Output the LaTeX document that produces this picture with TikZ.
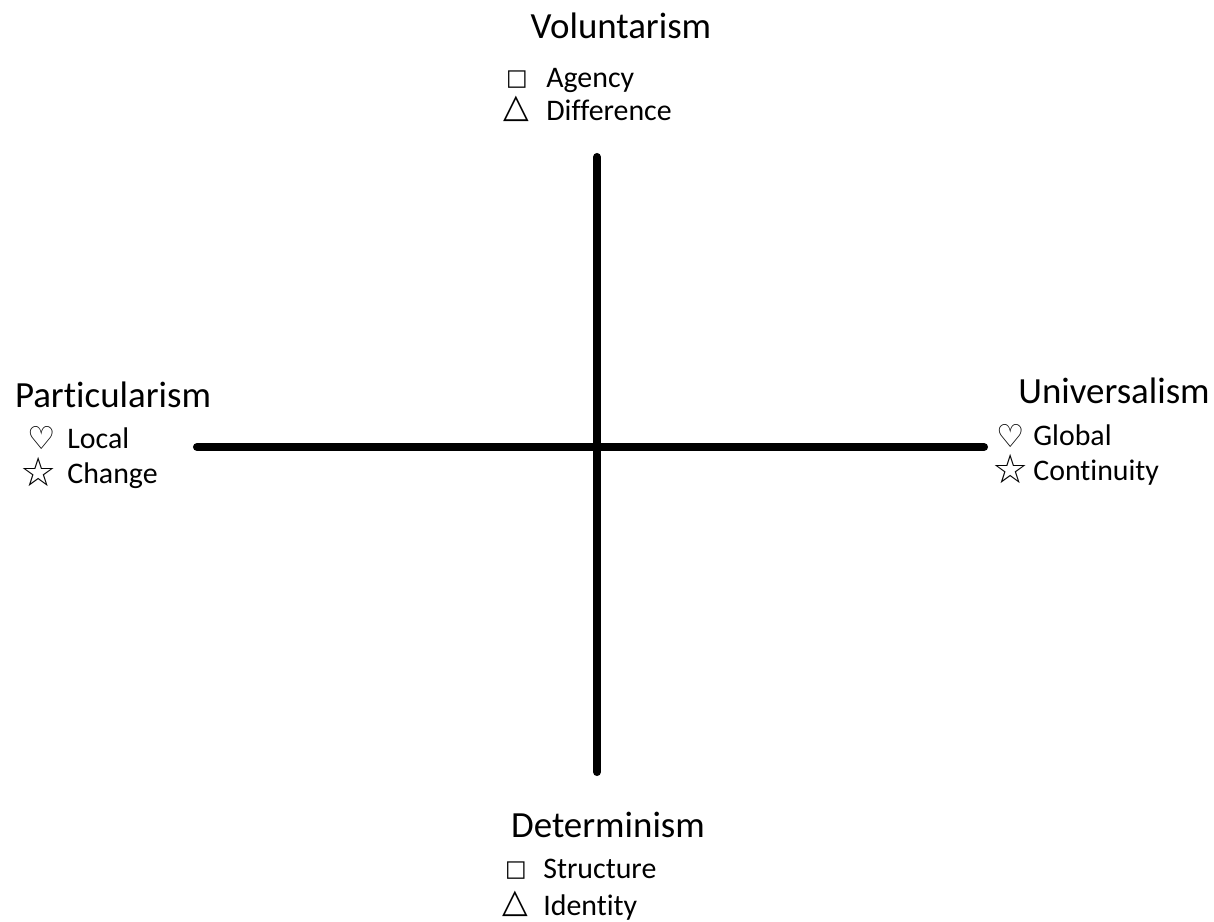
\documentclass[tikz,border=0pt]{standalone}
\usepackage{fontspec}
\setmainfont{Carlito}[Ligatures={NoCommon,NoRequired}]
\newfontfamily\glyphfont{DejaVu Sans}
\usetikzlibrary{positioning}

\begin{document}
\begin{tikzpicture}[x=0.02cm,y=-0.02cm,
  axis/.style={line width=4.6pt,line cap=round},
  pole/.style={font=\fontsize{21}{25}\selectfont,anchor=base,inner sep=0pt},
  item/.style={font=\fontsize{17}{20}\selectfont,anchor=base west,inner sep=0pt},
  glyph/.style={inner sep=0pt,anchor=center}]
 \useasboundingbox (0,0) rectangle (1214,921);
 % the two axes
 \coordinate (top) at (597,157);
 \coordinate (bottom) at (597,772);
 \coordinate (left) at (197,447);
 \coordinate (right) at (984,447);
 \draw[axis] (top) -- (bottom);
 \draw[axis] (left) -- (right);
 % voluntarism
 \node[pole] (vol) at (621,38) {Voluntarism};
 \node[glyph,font=\glyphfont\fontsize{13}{15}\selectfont] (volsq) at (517,80) {□};
 \node[item] (agency) at (546,87) {Agency};
 \node[glyph,font=\glyphfont\fontsize{19}{21}\selectfont] (voltri) at (516,109) {△};
 \node[item] (diff) at (546,120) {Difference};
 % determinism
 \node[pole] (det) at (608,837) {Determinism};
 \node[glyph,font=\glyphfont\fontsize{13}{15}\selectfont] (detsq) at (516,871) {□};
 \node[item] (struct) at (543,878) {Structure};
 \node[glyph,font=\glyphfont\fontsize{19}{21}\selectfont] (dettri) at (515,904) {△};
 \node[item] (ident) at (543,915) {Identity};
 % particularism
 \node[pole] (part) at (113,407) {Particularism};
 \node[glyph,font=\glyphfont\fontsize{18}{20}\selectfont] (parth) at (42,438) {♡};
 \node[item] (local) at (67,448) {Local};
 \node[glyph,font=\glyphfont\fontsize{23}{25}\selectfont] (parts) at (39,472) {☆};
 \node[item] (change) at (67,483) {Change};
 % universalism
 \node[pole] (univ) at (1114,403) {Universalism};
 \node[glyph,font=\glyphfont\fontsize{18}{20}\selectfont] (univh) at (1011,436) {♡};
 \node[item] (global) at (1033,445) {Global};
 \node[glyph,font=\glyphfont\fontsize{23}{25}\selectfont] (univs) at (1011,469) {☆};
 \node[item] (cont) at (1033,480) {Continuity};
\end{tikzpicture}
\end{document}
